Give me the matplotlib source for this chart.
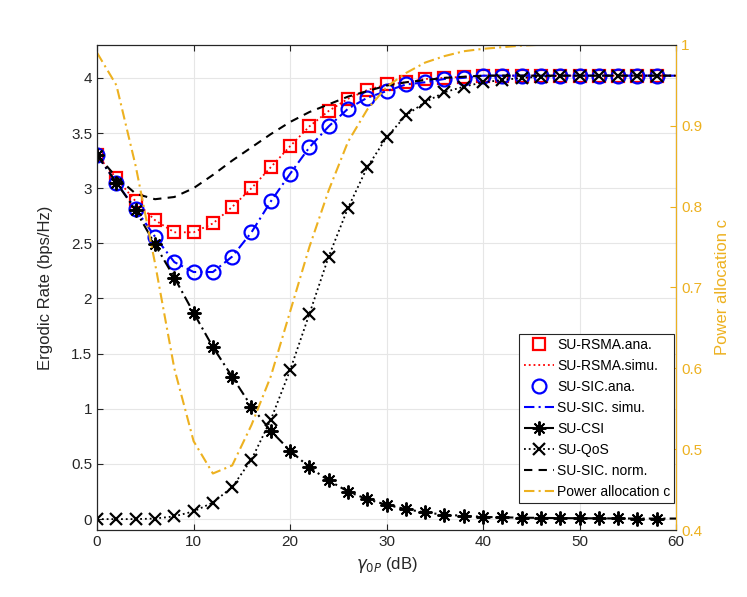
import numpy as np
import matplotlib.pyplot as plt

plt.rcParams['font.family'] = ['Liberation Sans', 'DejaVu Sans']

# SNR grid (dB), markers every 2 dB up to 58
snr = np.arange(0, 62, 2)

rsma = [3.30, 3.09, 2.88, 2.71, 2.60, 2.60, 2.68, 2.83, 3.00, 3.19,
        3.38, 3.56, 3.70, 3.81, 3.89, 3.94, 3.96, 3.99, 4.00, 4.01,
        4.02, 4.02, 4.02, 4.02, 4.02, 4.02, 4.02, 4.02, 4.02, 4.02, 4.02]
sic = [3.30, 3.05, 2.81, 2.56, 2.33, 2.24, 2.24, 2.38, 2.60, 2.88,
       3.13, 3.37, 3.56, 3.72, 3.82, 3.88, 3.94, 3.96, 3.99, 4.00,
       4.02, 4.02, 4.02, 4.02, 4.02, 4.02, 4.02, 4.02, 4.02, 4.02, 4.02]
csi = [3.30, 3.05, 2.80, 2.49, 2.19, 1.87, 1.56, 1.29, 1.02, 0.80,
       0.62, 0.47, 0.35, 0.25, 0.18, 0.13, 0.09, 0.06, 0.04, 0.03,
       0.02, 0.016, 0.013, 0.011, 0.009, 0.008, 0.007, 0.006, 0.005, 0.005, 0.005]
qos = [0.0, 0.0, 0.0, 0.005, 0.025, 0.07, 0.15, 0.29, 0.54, 0.90,
       1.35, 1.86, 2.38, 2.82, 3.19, 3.46, 3.66, 3.78, 3.87, 3.92,
       3.96, 3.98, 4.00, 4.01, 4.02, 4.02, 4.02, 4.02, 4.02, 4.02, 4.02]
norm = [3.30, 3.10, 2.95, 2.90, 2.92, 3.00, 3.12, 3.25, 3.37, 3.49,
        3.60, 3.69, 3.76, 3.83, 3.88, 3.93, 3.96, 3.98, 4.00, 4.01,
        4.02, 4.02, 4.02, 4.02, 4.02, 4.02, 4.02, 4.02, 4.02, 4.02, 4.02]
power_c = [0.99, 0.95, 0.85, 0.73, 0.60, 0.51, 0.47, 0.48, 0.53, 0.59,
           0.67, 0.75, 0.82, 0.88, 0.92, 0.948, 0.965, 0.978, 0.986, 0.992,
           0.995, 0.997, 0.999, 1.0, 1.0, 1.0, 1.0, 1.0, 1.0, 1.0, 1.0]

orange = '#EDB120'
mk = slice(0, 30)
asterisk = (8, 2, 0)  # matlab-like '*'

fig = plt.figure(figsize=(7.47, 5.97), dpi=100)
ax = fig.add_axes([0.13, 0.112, 0.775, 0.813])
ax2 = ax.twinx()

h1, = ax.plot(snr[mk], rsma[:30], 's', color='red', mfc='none', ms=8, mew=1.6,
              linestyle='none', label='SU-RSMA.ana.')
h2, = ax.plot(snr, rsma, ':', color='red', lw=1.3, label='SU-RSMA.simu.')
h3, = ax.plot(snr[mk], sic[:30], 'o', color='blue', mfc='none', ms=10, mew=1.6,
              linestyle='none', label='SU-SIC.ana.')
h4, = ax.plot(snr, sic, '-.', color='blue', lw=1.5, dashes=(5, 2, 1, 2),
              label='SU-SIC. simu.')
h5, = ax.plot(snr, csi, '-.', color='black', lw=1.5, dashes=(5, 2, 1, 2),
              marker=asterisk, ms=10, mew=1.4, markevery=mk, label='SU-CSI')
h6, = ax.plot(snr, qos, ':', color='black', lw=1.3, marker='x', ms=8.5, mew=1.6,
              markevery=mk, label='SU-QoS')
h7, = ax.plot(snr, norm, '--', color='black', lw=1.5, dashes=(4, 3),
              label='SU-SIC. norm.')
h8, = ax2.plot(snr, power_c, '-.', color=orange, lw=1.5, dashes=(5, 2, 1, 2),
               label='Power allocation c')

ax.set_xlim(0, 60)
ax.set_ylim(-0.1, 4.3)
ax.set_xticks(np.arange(0, 61, 10))
ax.set_yticks(np.arange(0, 4.01, 0.5))
ax.set_yticklabels(['0', '0.5', '1', '1.5', '2', '2.5', '3', '3.5', '4'])
ax2.set_ylim(0.4, 1.0)
ax2.set_yticks(np.arange(0.4, 1.001, 0.1))
ax2.set_yticklabels(['0.4', '0.5', '0.6', '0.7', '0.8', '0.9', '1'])

ax.grid(True, color='#e6e6e6', lw=0.8)
ax.set_axisbelow(True)
for a in (ax, ax2):
    a.tick_params(direction='in', length=4, labelsize=11, width=0.8)
ax.tick_params(colors='#262626', top=True)
ax2.tick_params(axis='y', colors=orange)
for s in ['left', 'bottom', 'top']:
    ax2.spines[s].set_color('#262626')
    ax2.spines[s].set_linewidth(0.8)
ax2.spines['right'].set_color(orange)
ax2.spines['right'].set_linewidth(0.8)

ax.set_xlabel(r'$\gamma_{0P}$ (dB)', fontsize=12, color='#262626')
ax.set_ylabel('Ergodic Rate (bps/Hz)', fontsize=12, color='#262626', labelpad=13)
ax2.set_ylabel('Power allocation c', fontsize=12, color=orange, labelpad=9)

leg = ax2.legend(handles=[h1, h2, h3, h4, h5, h6, h7, h8], loc='lower right',
                 bbox_to_anchor=(0.997, 0.056), fontsize=10, handlelength=2.2,
                 handletextpad=0.2, borderpad=0.3, labelspacing=0.5,
                 fancybox=False, framealpha=1, edgecolor='#262626',
                 borderaxespad=0)
leg.get_frame().set_linewidth(0.8)

fig.savefig('out.png', dpi=100)
